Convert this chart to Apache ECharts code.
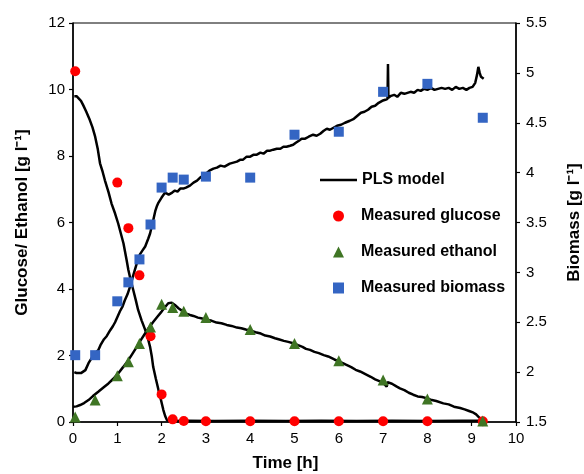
<!DOCTYPE html>
<html>
<head>
<meta charset="utf-8">
<title>PLS model vs measured concentrations</title>
<script src="https://cdn.jsdelivr.net/npm/echarts@6/dist/echarts.min.js"></script>
<style>
  html, body { margin: 0; padding: 0; background: #fff; }
  #chart { width: 584px; height: 474px; }
</style>
</head>
<body>
<div id="chart"></div>
<script>
// Time axis ticks [h]
const timeTicks = [0, 1, 2, 3, 4, 5, 6, 7, 8, 9, 10];

// Measured samples: [time h, concentration g/l]
const measuredGlucose = [
  [0.05, 10.55], [1.0, 7.2], [1.25, 5.83], [1.5, 4.41], [1.75, 2.58],
  [2.0, 0.83], [2.25, 0.08], [2.5, 0.03], [3, 0.02], [4, 0.02],
  [5, 0.02], [6, 0.02], [7, 0.02], [8, 0.02], [9.25, 0.02]
];
const measuredEthanol = [
  [0.05, 0.15], [0.5, 0.66], [1.0, 1.39], [1.25, 1.81], [1.5, 2.36],
  [1.75, 2.86], [2.0, 3.54], [2.25, 3.44], [2.5, 3.33], [3, 3.14],
  [4, 2.78], [5, 2.36], [6, 1.84], [7, 1.26], [8, 0.69], [9.25, 0.03]
];
const measuredBiomass = [
  [0.05, 2.17], [0.5, 2.17], [1.0, 2.71], [1.25, 2.9], [1.5, 3.13],
  [1.75, 3.48], [2.0, 3.85], [2.25, 3.95], [2.5, 3.93], [3, 3.96],
  [4, 3.95], [5, 4.38], [6, 4.41], [7, 4.81], [8, 4.89], [9.25, 4.55]
];

// PLS model predictions: [time h, value g/l]
const plsGlucose = [
  [0.03, 9.80], [0.08, 9.80], [0.12, 9.77], [0.18, 9.66], [0.23, 9.53],
  [0.30, 9.33], [0.38, 9.08], [0.44, 8.86], [0.50, 8.58], [0.56, 8.20],
  [0.61, 7.78], [0.67, 7.52], [0.72, 7.27], [0.80, 6.92], [0.87, 6.57],
  [0.95, 6.27], [1.02, 5.97], [1.08, 5.67], [1.14, 5.37], [1.21, 4.87],
  [1.25, 4.57], [1.30, 4.28], [1.36, 3.97], [1.42, 3.65], [1.47, 3.37],
  [1.55, 3.05], [1.63, 2.77], [1.69, 2.52], [1.74, 2.26], [1.78, 1.96],
  [1.81, 1.66], [1.87, 1.30], [1.93, 0.96], [1.99, 0.64], [2.04, 0.36],
  [2.08, 0.18], [2.12, 0.06], [2.20, 0.03], [2.6, 0.04], [3.2, 0.03],
  [4.0, 0.04], [4.8, 0.03], [5.6, 0.04], [6.4, 0.03], [7.2, 0.04],
  [8.0, 0.03], [8.8, 0.04], [9.25, 0.04]
];
const plsEthanol = [
  [0.00, 0.46], [0.08, 0.47], [0.16, 0.51], [0.25, 0.57], [0.35, 0.66],
  [0.45, 0.78], [0.57, 0.91], [0.68, 1.03], [0.80, 1.16], [0.91, 1.30],
  [1.02, 1.46], [1.13, 1.65], [1.25, 1.86], [1.34, 2.05], [1.44, 2.26],
  [1.53, 2.46], [1.63, 2.67], [1.72, 2.85], [1.81, 3.01], [1.90, 3.16],
  [2.00, 3.32], [2.08, 3.46], [2.15, 3.57], [2.23, 3.59], [2.30, 3.52],
  [2.38, 3.42], [2.49, 3.32], [2.56, 3.26], [2.64, 3.22], [2.72, 3.19],
  [2.82, 3.14], [2.92, 3.11], [3.02, 3.07], [3.12, 3.05], [3.24, 2.99],
  [3.35, 2.97], [3.47, 2.92], [3.58, 2.89], [3.70, 2.84], [3.80, 2.82],
  [3.90, 2.78], [4.00, 2.75], [4.12, 2.70], [4.24, 2.66], [4.34, 2.60],
  [4.45, 2.57], [4.56, 2.52], [4.66, 2.48], [4.76, 2.44], [4.86, 2.41],
  [4.97, 2.37], [5.08, 2.31], [5.18, 2.26], [5.26, 2.20], [5.35, 2.17],
  [5.45, 2.11], [5.55, 2.07], [5.66, 2.01], [5.76, 1.97], [5.90, 1.88],
  [6.03, 1.81], [6.15, 1.73], [6.28, 1.65], [6.38, 1.57], [6.48, 1.52],
  [6.60, 1.44], [6.72, 1.36], [6.82, 1.28], [6.93, 1.22], [7.00, 1.18],
  [7.08, 1.06], [7.10, 1.20], [7.20, 1.15], [7.30, 1.07], [7.38, 1.01],
  [7.48, 0.96], [7.58, 0.88], [7.68, 0.82], [7.78, 0.77], [7.88, 0.75],
  [8.00, 0.71], [8.10, 0.66], [8.20, 0.63], [8.36, 0.56], [8.48, 0.53],
  [8.60, 0.46], [8.74, 0.42], [8.84, 0.38], [8.94, 0.33], [9.04, 0.28],
  [9.10, 0.23], [9.16, 0.15], [9.22, 0.06], [9.26, 0.03]
];
const plsBiomass = [
  [0.03, 2.00], [0.08, 1.99], [0.12, 1.98], [0.18, 1.99], [0.22, 1.97],
  [0.28, 2.02], [0.35, 2.09], [0.42, 2.14], [0.50, 2.19], [0.57, 2.22],
  [0.62, 2.27], [0.65, 2.25], [0.70, 2.33], [0.76, 2.36], [0.84, 2.42],
  [0.90, 2.46], [0.95, 2.50], [1.00, 2.55], [1.06, 2.61], [1.12, 2.66],
  [1.17, 2.72], [1.23, 2.78], [1.29, 2.86], [1.36, 2.97], [1.44, 3.09],
  [1.51, 3.18], [1.57, 3.22], [1.63, 3.26], [1.70, 3.34], [1.74, 3.39],
  [1.81, 3.52], [1.86, 3.62], [1.89, 3.66], [1.93, 3.70], [1.96, 3.72],
  [2.00, 3.75], [2.04, 3.77], [2.08, 3.80], [2.12, 3.81], [2.16, 3.78],
  [2.19, 3.76], [2.24, 3.80], [2.30, 3.82], [2.36, 3.81], [2.42, 3.84],
  [2.49, 3.84], [2.55, 3.85], [2.64, 3.87], [2.72, 3.90], [2.80, 3.92],
  [2.87, 3.95], [2.94, 3.97], [3.00, 3.99], [3.08, 4.02], [3.17, 4.04],
  [3.25, 4.05], [3.33, 4.07], [3.42, 4.06], [3.54, 4.09], [3.62, 4.10],
  [3.70, 4.11], [3.78, 4.13], [3.84, 4.13], [3.92, 4.16], [4.00, 4.16],
  [4.08, 4.18], [4.15, 4.18], [4.23, 4.20], [4.30, 4.19], [4.38, 4.22],
  [4.45, 4.22], [4.52, 4.23], [4.60, 4.24], [4.68, 4.24], [4.75, 4.26],
  [4.82, 4.26], [4.90, 4.27], [4.97, 4.28], [5.03, 4.30], [5.10, 4.32],
  [5.16, 4.34], [5.24, 4.34], [5.32, 4.36], [5.42, 4.38], [5.50, 4.37],
  [5.58, 4.39], [5.66, 4.42], [5.73, 4.44], [5.80, 4.43], [5.88, 4.45],
  [5.96, 4.47], [6.05, 4.48], [6.14, 4.50], [6.25, 4.52], [6.34, 4.54],
  [6.42, 4.57], [6.50, 4.60], [6.58, 4.61], [6.66, 4.63], [6.74, 4.66],
  [6.82, 4.67], [6.90, 4.70], [6.98, 4.72], [7.05, 4.73], [7.10, 4.74],
  [7.11, 5.09], [7.12, 4.75], [7.18, 4.77], [7.25, 4.78], [7.32, 4.76],
  [7.40, 4.80], [7.48, 4.79], [7.55, 4.80], [7.62, 4.81], [7.70, 4.80],
  [7.78, 4.83], [7.85, 4.82], [7.92, 4.84], [8.00, 4.83], [8.08, 4.85],
  [8.16, 4.83], [8.24, 4.84], [8.32, 4.85], [8.40, 4.84], [8.48, 4.85],
  [8.56, 4.83], [8.64, 4.86], [8.72, 4.84], [8.80, 4.85], [8.88, 4.83],
  [8.95, 4.85], [9.02, 4.86], [9.08, 4.90], [9.12, 4.98], [9.15, 5.06],
  [9.18, 5.00], [9.21, 4.96], [9.24, 4.95], [9.27, 4.94]
];

const FONT = "'Liberation Sans', Arial, sans-serif";
const RED = '#ff0000';
const GREEN = '#3f7524';
const BLUE = '#3465c3';

const chart = echarts.init(document.getElementById('chart'), null, { renderer: 'canvas' });

const axisCommon = {
  axisLine: { show: true, lineStyle: { color: '#000', width: 1.6 } },
  axisTick: { show: true, inside: false, length: 4, lineStyle: { color: '#000', width: 1.2 } },
  axisLabel: { color: '#000', fontSize: 15, fontFamily: FONT },
  splitLine: { show: false },
  nameTextStyle: { color: '#000', fontSize: 17, fontWeight: 'bold', fontFamily: FONT }
};

const legendText = { color: '#000', fontSize: 16, fontWeight: 'bold', fontFamily: FONT, lineHeight: 16 };

function plsLine(data, yAxisIndex) {
  return {
    name: 'PLS model', type: 'line', data, yAxisIndex,
    showSymbol: false, symbol: 'none', smooth: false,
    lineStyle: { color: '#000', width: 2.5 },
    itemStyle: { color: '#000' },
    z: 2, silent: true
  };
}

function measured(name, data, symbol, size, color, yAxisIndex) {
  return {
    name, type: 'scatter', data, yAxisIndex, symbol, symbolSize: size,
    itemStyle: { color, opacity: 1 }, z: 3
  };
}

chart.setOption({
  animation: false,
  backgroundColor: '#fff',
  grid: {
    left: 73, right: 68, top: 23, bottom: 52,
    outerBoundsMode: 'none', containLabel: false,
    show: true, borderColor: '#000', borderWidth: 1, backgroundColor: 'transparent'
  },
  legend: [
    {
      // model line key
      orient: 'vertical', left: 320, top: 172, padding: 0,
      itemWidth: 37, itemHeight: 2.5, icon: 'rect',
      textStyle: legendText,
      data: ['PLS model']
    },
    {
      // measured sample keys
      orient: 'vertical', left: 333, top: 208, padding: 0,
      itemWidth: 11, itemHeight: 11, itemGap: 20,
      textStyle: Object.assign({}, legendText, { padding: [0, 0, 0, 12] }),
      data: [
        { name: 'Measured glucose', icon: 'circle' },
        { name: 'Measured ethanol', icon: 'triangle' },
        { name: 'Measured biomass', icon: 'rect' }
      ]
    }
  ],
  xAxis: Object.assign({}, axisCommon, {
    type: 'value', min: timeTicks[0], max: timeTicks[timeTicks.length - 1], interval: 1,
    name: 'Time [h]', nameLocation: 'middle', nameGap: 33,
    nameTextStyle: Object.assign({}, axisCommon.nameTextStyle, { padding: [0, 18, 0, 0] }),
    axisLabel: Object.assign({}, axisCommon.axisLabel, { margin: 9 })
  }),
  yAxis: [
    Object.assign({}, axisCommon, {
      type: 'value', min: 0, max: 12, interval: 2, position: 'left',
      name: 'Glucose/ Ethanol [g l\u207B\u00B9]', nameLocation: 'middle', nameGap: 42, nameRotate: 90,
      axisLabel: Object.assign({}, axisCommon.axisLabel, { margin: 8 })
    }),
    Object.assign({}, axisCommon, {
      type: 'value', min: 1.5, max: 5.5, interval: 0.5, position: 'right',
      name: 'Biomass [g l\u207B\u00B9]', nameLocation: 'middle', nameGap: 50, nameRotate: 90,
      axisLabel: Object.assign({}, axisCommon.axisLabel, { margin: 10 })
    })
  ],
  series: [
    plsLine(plsGlucose, 0),
    plsLine(plsEthanol, 0),
    plsLine(plsBiomass, 1),
    measured('Measured glucose', measuredGlucose, 'circle', 10, RED, 0),
    measured('Measured ethanol', measuredEthanol, 'triangle', 11, GREEN, 0),
    measured('Measured biomass', measuredBiomass, 'rect', 10, BLUE, 1)
  ]
});
</script>
</body>
</html>
